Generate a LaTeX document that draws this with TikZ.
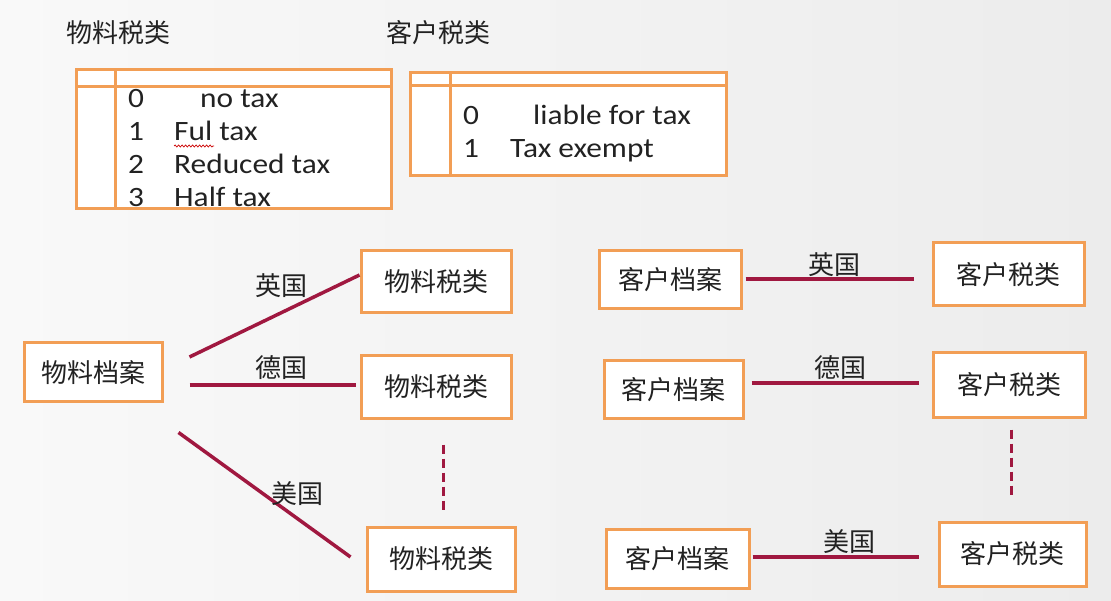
\documentclass[tikz,border=0pt]{standalone}
\usepackage{fontspec}
\setmainfont{Carlito}[FakeStretch=1.12]
\newfontfamily\cjk{Noto Sans CJK SC}
\usetikzlibrary{calc,decorations.pathmorphing}
\definecolor{boxorange}{HTML}{F29E55}
\definecolor{linered}{HTML}{A01840}
\definecolor{txtc}{HTML}{222222}
\definecolor{bgl}{HTML}{F9F9F9}
\definecolor{bgd}{HTML}{ECECEC}
\begin{document}
\begin{tikzpicture}[x=1pt,y=-1pt,
  box/.style={draw=boxorange, line width=3pt, fill=white, inner sep=0pt,
    font=\cjk\fontsize{26}{30}\selectfont, text=txtc},
  conn/.style={draw=linered, line width=3.5pt},
  dashconn/.style={draw=linered, line width=3pt, dash pattern=on 9pt off 5pt},
  lbl/.style={font=\cjk\fontsize{26}{30}\selectfont, text=txtc, inner sep=0pt},
  ttl/.style={font=\cjk\fontsize{26}{30}\selectfont, text=txtc, inner sep=0pt},
  ttext/.style={font=\fontsize{28}{33}\selectfont, text=txtc, inner sep=0pt, anchor=base west},
  tbl/.style={draw=boxorange, line width=3pt}
]
\useasboundingbox (0,0) rectangle (1111,601);
\shade[left color=bgl, right color=bgd] (0,0) rectangle (1111,601);

% titles
\node[ttl] (t1) at (118,33) {物料税类};
\node[ttl] (t2) at (438,33) {客户税类};

% table 1
\fill[white] (76,70) rectangle (391,209);
\draw[tbl] (76,70) rectangle (391,209);
\draw[tbl] (76,87) -- (391,87);
\draw[tbl] (115,70) -- (115,209);
\node[ttext] (r0n) at (128,108) {0};
\node[ttext] (r0t) at (200,108) {no tax};
\node[ttext] (r1n) at (128,141) {1};
\node[ttext] (r1t) at (174,141) {Ful tax};
\node[ttext] (r2n) at (128,174) {2};
\node[ttext] (r2t) at (174,174) {Reduced tax};
\node[ttext] (r3n) at (128,207) {3};
\node[ttext] (r3t) at (174,207) {Half tax};
\draw[red!80!black, line width=0.7pt, decorate, decoration={snake, segment length=3.5pt, amplitude=1pt}] (174,146) -- (214,146);

% table 2
\fill[white] (410,73) rectangle (726,176);
\draw[tbl] (410,73) rectangle (726,176);
\draw[tbl] (410,86) -- (726,86);
\draw[tbl] (450,73) -- (450,176);
\node[ttext] (s0n) at (463,125) {0};
\node[ttext] (s0t) at (533,125) {liable for tax};
\node[ttext] (s1n) at (463,158) {1};
\node[ttext] (s1t) at (510,158) {Tax exempt};

% left group
\node[box, minimum width=138pt, minimum height=59pt] (wa) at (93,372.5) {物料档案};
\node[box, minimum width=150pt, minimum height=62pt] (wt1) at (436,282) {物料税类};
\node[box, minimum width=150pt, minimum height=62pt] (wt2) at (436,387) {物料税类};
\node[box, minimum width=148pt, minimum height=64pt] (wt3) at (441,559) {物料税类};

\draw[conn] ($(wa.east)+(26,-15.5)$) -- ($(wt1.west)+(0,-7)$);
\draw[conn] ($(wa.east)+(26,12.5)$) -- ($(wt2.west)+(-4,-2)$);
\draw[conn] ($(wa.south east)+(15,29)$) -- ($(wt3.west)+(-15,-2)$);
\draw[dashconn] ($(wt2.south)+(7,25)$) -- ($(wt3.north)+(2,-15)$);

\node[lbl] (l1) at (281,286) {英国};
\node[lbl] (l2) at (281,368) {德国};
\node[lbl] (l3) at (297,494) {美国};

% right group
\node[box, minimum width=142pt, minimum height=58pt] (ka1) at (670,280) {客户档案};
\node[box, minimum width=139pt, minimum height=57pt] (ka2) at (673.5,389.5) {客户档案};
\node[box, minimum width=143pt, minimum height=59pt] (ka3) at (677.5,558.5) {客户档案};
\node[box, minimum width=151pt, minimum height=63pt] (kt1) at (1008.5,274.5) {客户税类};
\node[box, minimum width=152pt, minimum height=64pt] (kt2) at (1009,385) {客户税类};
\node[box, minimum width=147pt, minimum height=64pt] (kt3) at (1012.5,554) {客户税类};

\draw[conn] ($(ka1.east)+(3,-1)$) -- ($(kt1.west)+(-18,4.5)$);
\draw[conn] ($(ka2.east)+(7,-6.5)$) -- ($(kt2.west)+(-13,-2)$);
\draw[conn] ($(ka3.east)+(2,-1.5)$) -- ($(kt3.west)+(-19,3)$);
\draw[dashconn] ($(kt2.south)+(2,11)$) -- ($(kt3.north)+(-1.5,-24)$);

\node[lbl] (m1) at (834,265) {英国};
\node[lbl] (m2) at (840,368) {德国};
\node[lbl] (m3) at (849,542) {美国};
\end{tikzpicture}
\end{document}
